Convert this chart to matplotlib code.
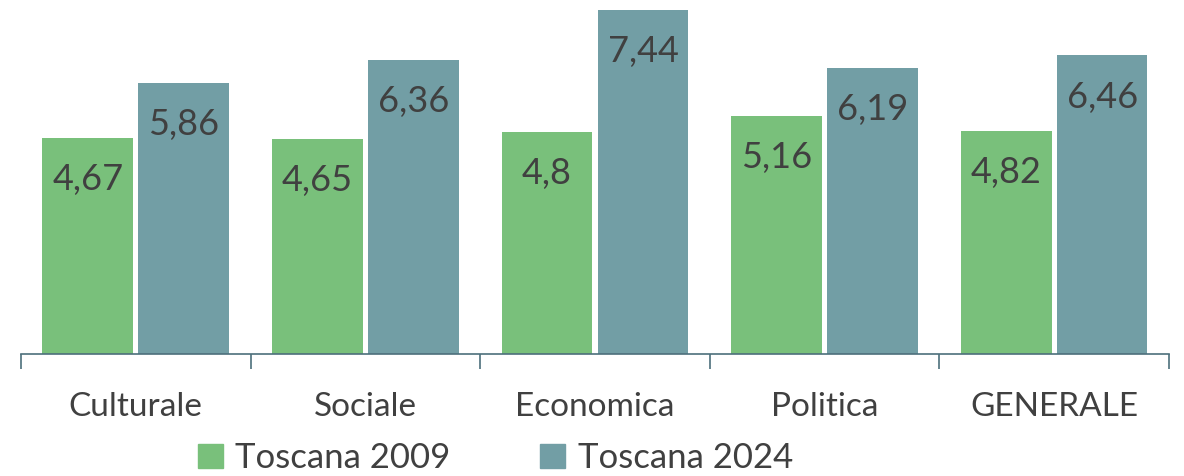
import matplotlib.pyplot as plt
from matplotlib.patches import Patch
import numpy as np

categories = ["Culturale", "Sociale", "Economica", "Politica", "GENERALE"]
toscana_2009 = [4.67, 4.65, 4.80, 5.16, 4.82]
toscana_2024 = [5.86, 6.36, 7.44, 6.19, 6.46]
labels_2009 = ["4,67", "4,65", "4,8", "5,16", "4,82"]
labels_2024 = ["5,86", "6,36", "7,44", "6,19", "6,46"]
series_names = ["Toscana 2009", "Toscana 2024"]

GREEN = "#79C07B"
TEAL = "#729EA5"
AXIS = "#4D6F7C"
INK = "#404040"

plt.rcParams["font.family"] = ["Lato", "DejaVu Sans"]

fig = plt.figure(figsize=(11.84, 4.76), dpi=100)
ax = fig.add_axes([0.0177, 0.256, 0.9696, 0.744])

x = np.arange(len(categories))
off = 0.209
w = 0.395
ax.bar(x - off, toscana_2009, width=w, color=GREEN, zorder=2)
ax.bar(x + off, toscana_2024, width=w, color=TEAL, zorder=2)

for xi, v, lab in zip(x - off, toscana_2009, labels_2009):
    ax.annotate(lab, (xi, v), xytext=(0, -30), textcoords="offset points",
                ha="center", va="center", fontsize=26, color=INK)
for xi, v, lab in zip(x + off, toscana_2024, labels_2024):
    ax.annotate(lab, (xi, v), xytext=(0, -30), textcoords="offset points",
                ha="center", va="center", fontsize=26, color=INK)

ax.set_xlim(-0.5, len(categories) - 0.5)
ax.set_ylim(0, 7.66)
ax.set_yticks([])
ax.set_xticks(x)
ax.set_xticklabels(categories, fontsize=24, color=INK)
ax.set_xticks(np.arange(-0.5, len(categories)), minor=True)
ax.tick_params(axis="x", which="major", length=0, pad=27)
ax.tick_params(axis="x", which="minor", length=11, width=1.2, color=AXIS, direction="out")

for side in ["top", "right", "left"]:
    ax.spines[side].set_visible(False)
ax.spines["bottom"].set_color(AXIS)
ax.spines["bottom"].set_linewidth(1.2)
ax.spines["bottom"].set_zorder(3)

handles = [Patch(color=GREEN), Patch(color=TEAL)]
fig.legend(handles, series_names, loc="lower left", bbox_to_anchor=(0.167, 0.004),
           ncol=2, frameon=False, fontsize=25, handlelength=0.72, handleheight=0.72,
           handletextpad=0.35, columnspacing=2.6, labelcolor=INK, borderaxespad=0,
           borderpad=0)

fig.savefig("out.png", dpi=100)
